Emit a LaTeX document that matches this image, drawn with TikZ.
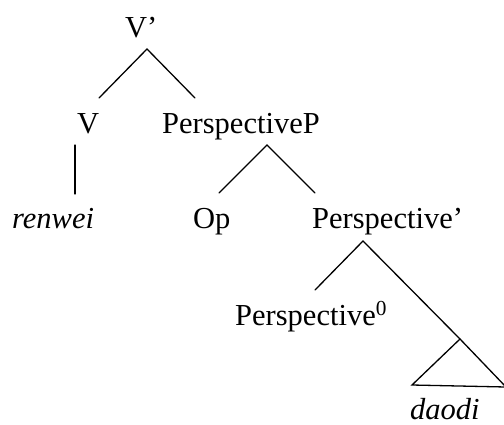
\documentclass[tikz,border=0pt]{standalone}
\usepackage{fontspec}
\setmainfont{Liberation Serif}
\begin{document}
\begin{tikzpicture}[x=1pt,y=-1pt,
  lbl/.style={anchor=base west,inner sep=0pt,font=\fontsize{30.5}{36}\selectfont},
  br/.style={line width=1.3pt,line cap=round}]
\useasboundingbox (0,0) rectangle (504,424);
% nodes
\node[lbl] (vbar) at (125,37) {V’};
\node[lbl] (v) at (77,133) {V};
\node[lbl] (pp) at (162,133) {PerspectiveP};
\node[lbl] (renwei) at (12,228) {\itshape renwei};
\node[lbl] (op) at (193,228) {Op};
\node[lbl] (pbar) at (312,228) {Perspective’};
\node[lbl] (p0) at (235,325) {Perspective\textsuperscript{0}};
\node[lbl] (daodi) at (410,419) {\itshape daodi};
% branch points
\coordinate (vbar-top) at (147,49);
\coordinate (v-in) at (99,98);
\coordinate (pp-in) at (195,98);
\coordinate (v-out) at (75,145);
\coordinate (renwei-in) at (75,194);
\coordinate (pp-top) at (267,145);
\coordinate (op-in) at (219,193);
\coordinate (pbar-in) at (315,193);
\coordinate (pbar-top) at (363,241);
\coordinate (p0-in) at (315,290);
\coordinate (tri-top) at (460,339);
\coordinate (tri-l) at (412,385);
\coordinate (tri-r) at (506,387);
% connectors
\draw[br] (v-in) -- (vbar-top) -- (pp-in);
\draw[br] (v-out) -- (renwei-in);
\draw[br] (op-in) -- (pp-top) -- (pbar-in);
\draw[br] (p0-in) -- (pbar-top) -- (tri-top);
\draw[br] (tri-top) -- (tri-l) -- (tri-r) -- cycle;
\end{tikzpicture}
\end{document}
